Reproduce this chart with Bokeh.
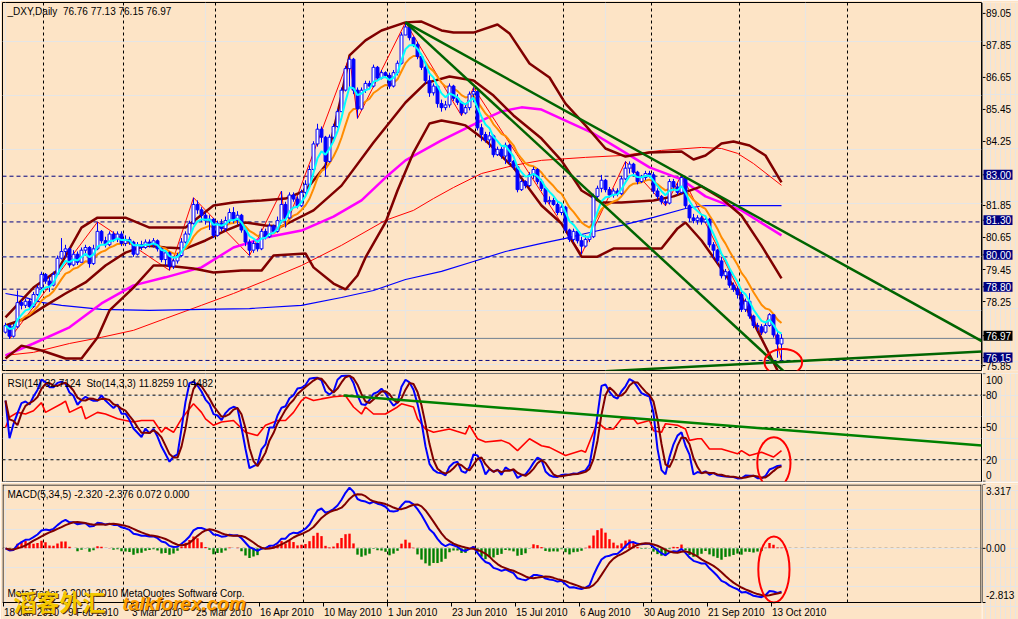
import numpy as np
import pandas as pd
from bokeh.plotting import figure
from bokeh.layouts import column, row
from bokeh.models import Range1d, Span
from bokeh.core.properties import value
from bokeh.embed import file_html
from bokeh.resources import INLINE

# ---------------------------------------------------------------- data
dates = pd.bdate_range("2010-01-18", "2010-10-15")   # 195 daily bars
first_open = 77.20
closes = [77.45, 77.05, 77.40, 78.30, 78.20, 78.35, 78.15, 78.60, 78.85, 79.35,
          79.10, 78.95, 79.35, 79.95, 80.20, 80.30, 79.70, 80.10, 79.80, 80.25,
          80.35, 79.75, 80.30, 80.95, 80.60, 80.45, 80.85, 80.65, 80.85, 80.50,
          80.65, 80.55, 80.10, 80.45, 80.35, 80.55, 80.45, 80.60, 80.30, 79.90,
          80.15, 79.65, 79.85, 80.05, 80.55, 80.85, 81.25, 81.95, 81.75, 81.55,
          81.35, 81.40, 80.80, 81.25, 81.05, 81.35, 81.65, 81.35, 81.55, 81.00,
          80.55, 80.25, 80.50, 80.30, 80.95, 80.75, 81.15, 80.95, 81.35, 81.95,
          81.45, 82.30, 82.15, 81.90, 82.40, 82.70, 83.25, 84.20, 84.75, 84.45,
          83.55, 84.45, 84.85, 85.40, 86.20, 87.00, 87.35, 86.20, 85.50, 86.20,
          86.45, 86.35, 87.05, 86.65, 86.85, 86.75, 86.35, 86.85, 87.20, 88.25,
          88.55, 88.15, 87.90, 87.45, 87.05, 86.55, 86.10, 86.35, 85.70, 85.55,
          85.65, 86.35, 85.90, 85.75, 85.35, 85.55, 86.05, 86.15, 84.80, 84.55,
          84.35, 84.50, 83.80, 84.00, 83.75, 84.15, 83.55, 83.35, 82.50, 82.80,
          82.65, 83.05, 83.25, 82.80, 82.55, 82.05, 82.10, 81.95, 81.65, 81.85,
          81.00, 80.65, 80.95, 80.60, 80.40, 80.65, 80.75, 82.25, 82.55, 82.85,
          82.50, 82.30, 82.45, 82.35, 82.90, 83.30, 83.45, 83.15, 82.80, 82.95,
          83.10, 83.05, 82.45, 82.25, 82.05, 82.00, 82.80, 82.60, 82.40, 82.95,
          81.90, 81.45, 81.35, 81.45, 81.30, 81.40, 80.45, 80.25, 79.85, 79.30,
          79.45, 78.95, 78.80, 78.60, 78.05, 78.35, 77.80, 77.45, 77.40, 77.20,
          77.45, 77.85, 77.10, 76.76, 76.97]
highs = [77.55, 77.50, 77.50, 78.75, 78.40, 78.45, 78.45, 78.70, 78.95, 79.45,
         79.40, 79.25, 79.45, 80.05, 80.70, 80.45, 80.35, 80.25, 80.20, 80.35,
         80.45, 80.40, 80.45, 81.30, 81.00, 80.75, 80.95, 80.95, 80.95, 80.95,
         80.80, 80.75, 80.60, 80.55, 80.60, 80.65, 80.65, 80.70, 80.65, 80.35,
         80.25, 80.20, 79.95, 80.15, 80.70, 80.95, 81.35, 82.20, 82.10, 81.85,
         81.65, 81.55, 81.45, 81.35, 81.40, 81.50, 81.80, 81.85, 81.70, 81.60,
         81.05, 80.65, 80.60, 80.60, 81.05, 81.05, 81.25, 81.20, 81.50, 82.45,
         82.05, 82.40, 82.40, 82.25, 82.50, 82.85, 83.40, 84.30, 84.95, 84.85,
         84.50, 84.55, 84.95, 85.50, 86.30, 87.10, 87.45, 87.40, 86.30, 86.30,
         86.55, 86.55, 87.15, 87.10, 86.95, 86.90, 86.85, 86.95, 87.30, 88.35,
         88.72, 88.60, 88.20, 88.00, 87.55, 87.15, 86.75, 86.45, 86.40, 85.85,
         85.80, 86.45, 86.40, 86.05, 85.80, 85.70, 86.15, 86.30, 86.20, 84.95,
         84.65, 84.65, 84.55, 84.10, 84.10, 84.25, 84.20, 83.60, 83.40, 82.90,
         82.85, 83.15, 83.35, 83.30, 82.90, 82.60, 82.25, 82.20, 82.05, 81.95,
         81.90, 81.05, 81.05, 80.95, 80.75, 80.80, 80.85, 82.35, 82.65, 83.05,
         82.90, 82.60, 82.55, 82.55, 83.00, 83.55, 83.55, 83.50, 83.20, 83.05,
         83.20, 83.20, 83.15, 82.55, 82.30, 82.15, 82.90, 82.90, 82.75, 83.05,
         83.00, 81.95, 81.60, 81.55, 81.55, 81.50, 81.45, 80.55, 80.30, 80.00,
         79.55, 79.55, 79.05, 78.90, 78.75, 78.45, 78.65, 77.85, 77.55, 77.50,
         77.55, 77.90, 77.85, 77.20, 77.13]
lows = [77.15, 76.95, 77.00, 77.35, 78.05, 78.10, 78.05, 78.10, 78.55, 78.80,
        79.00, 78.70, 78.90, 79.30, 79.90, 79.95, 79.60, 79.65, 79.70, 79.80,
        80.05, 79.60, 79.70, 80.25, 80.50, 80.35, 80.40, 80.55, 80.55, 80.40,
        80.40, 80.45, 80.00, 80.05, 80.25, 80.30, 80.35, 80.35, 80.20, 79.80,
        79.70, 79.50, 79.55, 79.75, 80.00, 80.50, 80.80, 81.20, 81.60, 81.30,
        81.20, 81.00, 80.70, 80.75, 80.95, 80.95, 81.25, 81.25, 81.20, 80.90,
        80.40, 80.05, 80.15, 80.20, 80.25, 80.65, 80.70, 80.85, 80.90, 81.25,
        81.10, 81.40, 82.05, 81.80, 81.85, 82.30, 82.60, 83.20, 84.10, 84.25,
        83.00, 83.50, 84.35, 84.80, 85.40, 86.15, 86.30, 86.05, 85.15, 85.45,
        86.10, 86.25, 86.30, 86.55, 86.60, 86.65, 86.25, 86.30, 86.75, 87.15,
        88.25, 88.05, 87.80, 87.35, 86.95, 86.45, 85.95, 86.00, 85.55, 85.40,
        85.45, 85.55, 85.80, 85.65, 85.25, 85.30, 85.45, 85.75, 84.70, 84.30,
        84.25, 84.05, 83.70, 83.75, 83.65, 83.45, 83.45, 83.25, 82.40, 82.45,
        82.55, 82.60, 82.90, 82.70, 82.45, 81.95, 81.95, 81.90, 81.55, 81.55,
        80.90, 80.55, 80.55, 80.50, 80.10, 80.35, 80.55, 80.70, 82.15, 82.40,
        82.40, 82.20, 82.20, 82.25, 82.30, 82.85, 83.10, 83.05, 82.70, 82.75,
        82.85, 82.95, 82.35, 82.15, 81.95, 81.90, 81.95, 82.50, 82.30, 82.35,
        81.80, 81.30, 81.25, 81.20, 81.20, 81.25, 80.35, 79.95, 79.75, 79.20,
        79.15, 78.85, 78.70, 78.45, 77.95, 77.95, 77.70, 77.35, 77.25, 77.10,
        77.15, 77.40, 77.00, 76.25, 76.15]

# long moving averages (bar index, price)
ma50_idx = [0, 7, 16, 24, 32, 40, 49, 57, 65, 74, 82, 89, 95, 100, 109, 119, 124,
            129, 134, 140, 147, 154, 161, 169, 175, 184, 194]
ma50_val = [76.34, 76.78, 77.38, 78.27, 78.94, 79.24, 79.61, 80.35, 80.72, 80.98,
            81.50, 82.10, 82.95, 83.59, 84.33, 85.07, 85.41, 85.56, 85.48, 85.07,
            84.59, 83.96, 83.33, 82.88, 82.25, 81.73, 80.80]
ma100_idx = [0, 7, 16, 24, 32, 40, 49, 57, 65, 74, 84, 95, 102, 107, 112, 119, 127,
             134, 145, 154, 164, 174, 179, 183, 187, 194]
ma100_val = [76.34, 76.45, 76.78, 77.01, 77.27, 77.71, 78.20, 78.64, 79.12, 79.68,
             80.43, 81.36, 81.73, 82.17, 82.58, 83.10, 83.40, 83.59, 83.70, 83.77,
             83.96, 84.07, 84.03, 83.85, 83.47, 82.66]
ma200_idx = [0, 4, 9, 14, 24, 36, 49, 61, 74, 84, 92, 100, 109, 117, 125, 134, 140,
             145, 154, 162, 170, 175, 184, 194]
ma200_val = [78.64, 78.53, 78.31, 78.20, 78.05, 78.01, 78.05, 78.08, 78.20, 78.49,
             78.75, 79.16, 79.46, 79.83, 80.20, 80.50, 80.69, 80.87, 81.17, 81.47,
             81.80, 81.91, 81.91, 81.91]
# Bollinger bands
bb_up_idx = [0, 7, 13, 19, 23, 30, 36, 45, 52, 57, 64, 70, 75, 80, 82, 84, 86, 90,
             94, 100, 104, 109, 112, 117, 123, 126, 131, 136, 140, 145, 150, 155,
             161, 169, 172, 175, 179, 182, 186, 190, 194]
bb_up_val = [77.75, 78.86, 79.49, 81.09, 81.46, 81.46, 81.09, 81.09, 81.91, 82.02,
             82.10, 82.17, 82.47, 83.40, 84.70, 86.00, 87.49, 88.05, 88.42, 88.72,
             88.75, 88.42, 88.34, 88.34, 88.64, 88.31, 87.19, 86.67, 85.70, 84.89,
             84.03, 83.73, 83.88, 83.92, 83.62, 83.77, 84.22, 84.29, 84.14, 83.77,
             82.77]
bb_mid_idx = [0, 5, 10, 15, 20, 25, 30, 35, 40, 45, 50, 55, 60, 65, 69, 77, 84, 92,
              100, 105, 111, 117, 122, 127, 134, 139, 144, 149, 154, 162, 167, 174,
              179, 184, 189, 194]
bb_mid_val = [77.45, 77.71, 78.19, 78.64, 79.05, 79.68, 80.16, 80.42, 80.35, 80.31,
              80.61, 80.98, 81.28, 81.17, 81.13, 81.73, 82.65, 84.25, 85.74, 86.46,
              86.71, 86.56, 86.00, 85.26, 84.40, 83.58, 82.47, 82.02, 82.02, 82.10,
              82.25, 82.62, 82.17, 81.54, 80.42, 79.20]
bb_lo_idx = [0, 4, 9, 15, 19, 23, 26, 32, 37, 40, 47, 52, 59, 64, 67, 75, 77, 82, 85,
             88, 90, 95, 98, 102, 106, 109, 113, 115, 120, 127, 134, 139, 142, 144,
             148, 152, 164, 168, 170, 174, 177, 184, 188, 193]
bb_lo_val = [76.22, 76.70, 76.52, 76.22, 76.22, 77.00, 78.01, 78.86, 79.68, 79.68,
             79.57, 79.42, 79.49, 79.49, 80.05, 80.13, 79.61, 79.01, 78.79, 79.31,
             79.98, 81.28, 82.47, 83.88, 84.96, 85.07, 84.96, 84.89, 84.33, 83.32,
             81.91, 81.24, 80.50, 80.01, 80.01, 80.31, 80.31, 81.06, 81.28, 80.61,
             79.98, 78.49, 77.26, 75.78]
# ZigZag pivots
zz_idx = [1, 23, 41, 47, 61, 69, 70, 86, 88, 100, 114, 117, 144, 155, 165, 169, 189, 191, 194]
zz_val = [76.95, 81.30, 79.50, 82.20, 80.05, 82.45, 81.10, 87.45, 85.15, 88.72, 85.25,
          86.30, 80.10, 83.55, 81.90, 83.05, 77.10, 77.90, 76.15]
# RSI(14)
rsi_idx = [0, 1, 3, 5, 7, 9, 10, 14, 15, 16, 19, 20, 23, 25, 28, 30, 32, 34, 37, 39,
           40, 42, 44, 47, 49, 50, 52, 54, 57, 60, 63, 65, 68, 70, 72, 74, 75, 77, 79,
           82, 85, 87, 89, 90, 92, 95, 98, 99, 102, 103, 105, 107, 111, 115, 116, 118,
           120, 124, 126, 128, 131, 134, 136, 140, 144, 145, 148, 150, 152, 154, 157,
           158, 161, 162, 164, 165, 168, 170, 171, 173, 174, 176, 179, 183, 184, 186,
           189, 192, 194]
rsi_val = [50, 59.5, 64, 62.5, 65.5, 73, 64, 72, 74.5, 64, 69.5, 58, 64, 62.5, 58,
           56.5, 55, 56.5, 56.5, 45.5, 50, 45.5, 58, 72, 64, 58, 52, 55, 56.5, 45.5,
           42.5, 52, 56.5, 56.5, 64, 75, 78, 75, 76.5, 78.5, 79.5, 69, 62.5, 69, 62.5,
           62.5, 69, 72, 69, 58, 48.5, 45.5, 48.5, 44, 52, 39.5, 36.5, 38, 35, 28.5,
           39.5, 33, 31.5, 24, 28.5, 27, 55, 48.5, 48.5, 58, 58, 53.5, 56.5, 47, 45.5,
           53.5, 52, 48.5, 38, 39.5, 39.5, 30, 30, 25.5, 28.5, 24, 27, 22.5, 28.5]

levels_navy = [83.00, 81.30, 80.00, 78.80, 76.15]
bid_level = 76.97
price_ticks = [89.05, 87.85, 86.65, 85.45, 84.25, 81.85, 80.65, 79.45, 78.25, 75.85]
rsi_ticks = [94.5, 80, 50, 20, 6.3]            # label positions (top / bottom labels pulled in)
rsi_tick_text = ["100", "80", "50", "20", "0"]
macd_ticks = [3.005, 0.0, -2.449]
macd_tick_text = ["3.317", "0.00", "-2.813"]
month_start_idx = [10, 30, 53, 75, 96, 118, 140, 162, 184, 211]
xlabel_idx = [0, 16, 32, 48, 64, 80, 96, 112, 128, 144, 160, 176, 192]
xlabel_text = ["18 Jan 2010", "9 Feb 2010", "3 Mar 2010", "25 Mar 2010", "16 Apr 2010",
               "10 May 2010", "1 Jun 2010", "23 Jun 2010", "15 Jul 2010", "6 Aug 2010",
               "30 Aug 2010", "21 Sep 2010", "13 Oct 2010"]

# ---------------------------------------------------------------- derived indicators
n = len(closes)
idx = np.arange(n)
opens = [first_open] + closes[:-1]
s_c, s_h, s_l = pd.Series(closes), pd.Series(highs), pd.Series(lows)
ema_fast = s_c.ewm(span=5, adjust=False).mean()
ema_mid = s_c.ewm(span=10, adjust=False).mean()
ll = s_l.rolling(14, min_periods=1).min()
hh = s_h.rolling(14, min_periods=1).max()
sto_k = (s_c - ll).rolling(3, min_periods=1).sum() / (hh - ll).rolling(3, min_periods=1).sum() * 100
sto_d = sto_k.rolling(3, min_periods=1).mean()
macd = s_c.ewm(span=5, adjust=False).mean() - s_c.ewm(span=34, adjust=False).mean()
macd_sig = macd.rolling(5, min_periods=1).mean()
hist = 1.3 * (macd - macd_sig)

BG = "#FDE4C6"
FONT = "Liberation Sans"
NAVY = "#000080"
MAROON = "#800000"
GREEN = "#006400"

xr = Range1d(-0.75, 244.0)


def make_panel(h, y_range, top, bottom, outline=True):
    p = figure(width=982, height=h, x_range=xr, y_range=y_range,
               output_backend="svg", toolbar_location=None,
               x_axis_location=None, y_axis_location=None,
               min_border_left=2, min_border_right=1,
               min_border_top=top, min_border_bottom=bottom,
               background_fill_color=BG, border_fill_color=BG,
               outline_line_color="black" if outline else None, outline_line_width=1)
    return p


def make_side(h, y_range, top, bottom):
    s = figure(width=36, height=h, x_range=Range1d(982, 1018), y_range=y_range,
               output_backend="svg", toolbar_location=None,
               x_axis_location=None, y_axis_location=None,
               min_border_left=0, min_border_right=0,
               min_border_top=top, min_border_bottom=bottom,
               background_fill_color=BG, border_fill_color=BG, outline_line_color=None)
    return s


def side_ticks(s, ticks, texts, tick_pos=None):
    tick_pos = ticks if tick_pos is None else tick_pos
    s.segment(x0=[982] * len(tick_pos), y0=tick_pos, x1=[985] * len(tick_pos), y1=tick_pos,
              line_color="black", line_width=1)
    s.text(x=[985.5] * len(ticks), y=ticks, text=texts, text_font=value(FONT),
           text_font_size="10px", text_baseline="middle", text_align="left",
           text_color="black")


def title(p, x, y, text, size="10px"):
    p.text(x=[x], y=[y], text=[text], text_font=value(FONT), text_font_size=size,
           text_baseline="middle", text_align="left", text_color="black")


def vgrid(p, y0=None, y1=None):
    for k in month_start_idx:
        if y0 is None:
            p.add_layout(Span(location=k - 0.5, dimension="height", line_color="black",
                              line_dash="3 3", line_width=1, level="underlay"))
        else:
            p.segment(x0=[k - 0.5], y0=[y0], x1=[k - 0.5], y1=[y1], line_color="black",
                      line_dash="3 3", line_width=1, level="underlay")


# ---------------------------------------------------------------- main price panel
PPX = 26.894                                  # pixels per price unit
P_TOP, P_BOT = 89.459, 75.776
p1 = make_panel(373, Range1d(P_BOT, P_TOP), 2, 3)
vgrid(p1)
for lv in levels_navy:
    p1.add_layout(Span(location=lv, dimension="width", line_color=NAVY, line_dash="4 3",
                       line_width=1, level="underlay"))
p1.add_layout(Span(location=bid_level, dimension="width", line_color="#708090",
                   line_width=1, level="underlay"))

p1.line(zz_idx, zz_val, line_color="#FF0000", line_width=1)
p1.line(ma100_idx, ma100_val, line_color="#FF0000", line_width=1)
p1.line(ma200_idx, ma200_val, line_color="#0000FF", line_width=1.2)
p1.line(ma50_idx, ma50_val, line_color="#FF00FF", line_width=2.5)
p1.line(bb_up_idx, bb_up_val, line_color=MAROON, line_width=2.5)
p1.line(bb_mid_idx, bb_mid_val, line_color=MAROON, line_width=2.5)
p1.line(bb_lo_idx, bb_lo_val, line_color=MAROON, line_width=2.5)
p1.line(idx, ema_mid, line_color="#FF8C00", line_width=2)

cdf = pd.DataFrame(dict(i=idx, o=opens, h=highs, l=lows, c=closes))
cdf["top"] = cdf[["o", "c"]].max(axis=1)
cdf["bot"] = cdf[["o", "c"]].min(axis=1)
cdf["fill"] = np.where(cdf["c"] >= cdf["o"], "#FFFFFF", "#0000FF")
p1.segment(x0="i", y0="l", x1="i", y1="h", source=cdf, line_color="#0000FF", line_width=1)
p1.vbar(x="i", width=0.72, top="top", bottom="bot", fill_color="fill",
        line_color="#0000FF", line_width=1, source=cdf)

p1.line(idx, ema_fast, line_color="#00FFFF", line_width=2)

# trend lines
p1.line([100, 245], [88.72, 76.79], line_color=GREEN, line_width=2.5)
p1.line([100, 196], [88.72, 75.55], line_color=GREEN, line_width=2.5)
p1.line([150, 245], [75.75, 76.49], line_color=GREEN, line_width=2.5)
p1.ellipse(x=[194.45], y=[76.08], width=9.4, height=0.99, fill_color=None,
           line_color="#FF0000", line_width=2)
title(p1, 0.5, 89.124, "_DXY,Daily\u00a0 76.76 77.13 76.15 76.97")

# price scale (extends 3px lower so the bottom label is not cut)
s1 = make_side(373, Range1d(P_BOT - 3.0 / PPX, P_TOP), 2, 0)
side_ticks(s1, price_ticks, [f"{t:.2f}" for t in price_ticks])
box_levels = levels_navy + [bid_level]
box_colors = [NAVY] * len(levels_navy) + ["#000000"]
half = 5.0 / PPX
s1.segment(x0=[982] * len(box_levels), y0=box_levels, x1=[985] * len(box_levels),
           y1=box_levels, line_color="black", line_width=1)
s1.quad(left=[983] * len(box_levels), right=[1012] * len(box_levels),
        top=[v + half for v in box_levels], bottom=[v - half for v in box_levels],
        fill_color=box_colors, line_color=None)
s1.text(x=[985.5] * len(box_levels), y=box_levels, text=[f"{v:.2f}" for v in box_levels],
        text_font=value(FONT), text_font_size="10px", text_baseline="middle",
        text_align="left", text_color="white")
s1.segment(x0=[982], y0=[P_BOT], x1=[982], y1=[P_TOP], line_color="black", line_width=1)

# ---------------------------------------------------------------- RSI / Stochastic panel
rsi_range = Range1d(-0.2, 100.1)
p2 = make_panel(109, rsi_range, 0, 1)
vgrid(p2)
for lv in [80, 50, 20]:
    p2.add_layout(Span(location=lv, dimension="width", line_color="black",
                       line_dash="3 3", line_width=1, level="underlay"))
p2.line(rsi_idx, rsi_val, line_color="#FF0000", line_width=1.6)
p2.line(idx, sto_k, line_color="#0000FF", line_width=2)
p2.line(idx, sto_d, line_color=MAROON, line_width=2)
p2.line([84.5, 245], [79.7, 33.0], line_color="#008000", line_width=2.5)
p2.ellipse(x=[192.1], y=[17.0], width=8.3, height=47.9, fill_color=None,
           line_color="#FF0000", line_width=2)
title(p2, 0.5, 90.8, "RSI(14) 32.7124\u00a0 Sto(14,3,3) 11.8259 10.4482")

s2 = make_side(109, rsi_range, 0, 1)
side_ticks(s2, rsi_ticks, rsi_tick_text, tick_pos=[100, 80, 50, 20, 0])

# ---------------------------------------------------------------- MACD panel (+ date strip)
MACD_TOP, MACD_BOT = 3.317, -2.813
PXU = 118.0 / (MACD_TOP - MACD_BOT)          # pixels per MACD unit
macd_range = Range1d(MACD_TOP - 135.0 / PXU, MACD_TOP)
p3 = make_panel(137, macd_range, 2, 0, outline=False)
vgrid(p3, MACD_BOT, MACD_TOP)
p3.segment(x0=[-0.75], y0=[0.0], x1=[244.0], y1=[0.0], line_color="black",
           line_dash="3 3", line_width=1, level="underlay")
hcol = np.where(hist.values >= 0, "#FF0000", "#008000")
p3.vbar(x=idx, width=0.6, top=hist.values, bottom=0, fill_color=hcol, line_color=None)
p3.line(idx, macd, line_color="#0000FF", line_width=2)
p3.line(idx, macd_sig, line_color=MAROON, line_width=2)
p3.ellipse(x=[192.1], y=[-1.10], width=7.8, height=3.43, fill_color=None,
           line_color="#FF0000", line_width=2)
# panel frame
p3.multi_line(xs=[[-0.625, -0.625], [243.875, 243.875], [-0.75, 244.0], [-0.75, 244.0]],
              ys=[[MACD_BOT, MACD_TOP], [MACD_BOT, MACD_TOP],
                  [MACD_TOP - 0.5 / PXU, MACD_TOP - 0.5 / PXU], [MACD_BOT, MACD_BOT]],
              line_color="black", line_width=1)
title(p3, 0.5, MACD_TOP - 10.0 / PXU, "MACD(5,34,5) -2.320 -2.376 0.072 0.000")
title(p3, 0.5, MACD_TOP - 109.0 / PXU, "MetaTrader ? 2001-2010 MetaQuotes Software Corp.")

# date axis strip
tick_x = [k - 0.5 for k in xlabel_idx]
p3.segment(x0=tick_x, y0=[MACD_BOT] * len(tick_x), x1=tick_x,
           y1=[MACD_BOT - 4.0 / PXU] * len(tick_x), line_color="black", line_width=1)
p3.text(x=[k - 0.4 for k in xlabel_idx], y=[MACD_TOP - 127.5 / PXU] * len(xlabel_idx),
        text=xlabel_text, text_font=value(FONT), text_font_size="10px",
        text_align="left", text_baseline="middle", text_color="black")

# watermark
for dx, c1, c2 in [(0.25, "#5C3300", "#5C3300"), (0.0, "#F5C800", "#FFA000")]:
    dy = -dx * 4.0 / PXU
    p3.text(x=[2.0 + dx], y=[MACD_TOP - 116.0 / PXU + dy], text=["滔客外汇"],
            text_font=value("Noto Sans CJK SC"), text_font_size="23px",
            text_font_style="bold", text_color=c1, text_baseline="middle",
            text_align="left")
    p3.text(x=[29.2 + dx], y=[MACD_TOP - 119.0 / PXU + dy], text=["talkforex.com"],
            text_font=value(FONT), text_font_size="19px",
            text_font_style="bold italic", text_color=c2, text_baseline="middle",
            text_align="left")

s3 = make_side(137, macd_range, 2, 0)
side_ticks(s3, macd_ticks, macd_tick_text, tick_pos=[MACD_TOP, 0.0, MACD_BOT])
s3.segment(x0=[982], y0=[MACD_BOT], x1=[982], y1=[MACD_TOP], line_color="black", line_width=1)

layout = column(row(p1, s1, spacing=0), row(p2, s2, spacing=0), row(p3, s3, spacing=0),
                spacing=0)
html = file_html(layout, INLINE, title="DXY Daily")
html = html.replace("<head>", "<head><style>html,body{margin:0;padding:0;}</style>", 1)
open("out.html", "w").write(html)
